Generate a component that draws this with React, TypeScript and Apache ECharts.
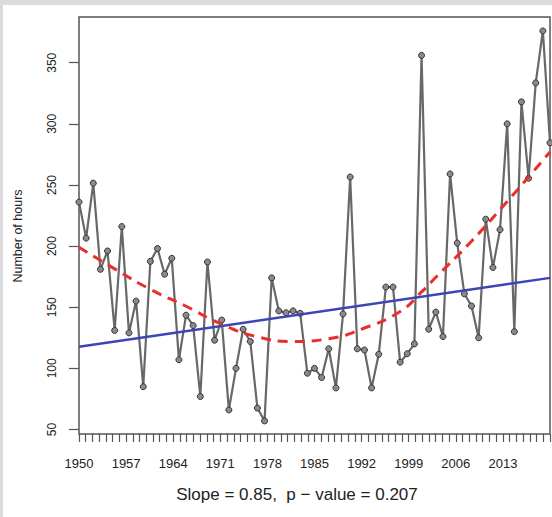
import React, { useEffect, useRef } from "react";
import * as echarts from "echarts";

// Yearly number of hours (one point per plotted step, left to right)
const hours = [
  236, 206.5, 251.5, 181, 196, 131, 216, 129, 155, 85,
  187.5, 198, 177, 190, 107, 143.5, 135, 77, 187, 123,
  139.5, 66, 100, 132, 122, 67.5, 57, 174, 147, 145.5,
  147, 145, 96, 100, 92.5, 116, 84, 144.5, 256.5, 116,
  115, 84, 111.5, 166.5, 166.5, 105, 112, 120, 356, 132,
  146, 126, 259, 202.5, 161, 151, 125, 222, 182.5, 213.5,
  300, 130, 318, 255.5, 333.5, 376, 284.5,
];

// Linear trend (blue), end points
const trendIndex = [0, 66];
const trendValue = [117.6, 174.0];

// Smoothed curve (red dashed)
const smoothIndex = [0, 5, 10, 15, 20, 25, 30, 35, 40, 45, 48, 50, 55, 60, 66];
const smoothValue = [199, 181.4, 164.6, 150.8, 136, 125.8, 122, 124.2, 133, 146.5, 162.5, 174.5, 204, 236.5, 277];

// Axis ticks / labels
const yTicks = [50, 100, 150, 200, 250, 300, 350];
const yearLabels = [1950, 1957, 1964, 1971, 1978, 1985, 1992, 1999, 2006, 2013];
const yearFirst = 1950;
const yearLast = 2020;
const yearTicks = Array.from({ length: yearLast - yearFirst + 1 }, (_, i) => yearFirst + i);

const FONT = "'Liberation Sans', Arial, Helvetica, sans-serif";

export default function App() {
  const ref = useRef<HTMLDivElement>(null);

  useEffect(() => {
    if (!ref.current) return;
    const chart = echarts.init(ref.current, undefined, { renderer: "svg" });
    chart.setOption({
      animation: false,
      backgroundColor: "#ffffff",
      textStyle: { fontFamily: FONT },
      grid: {
        left: 76,
        top: 12,
        right: 2,
        bottom: 83,
        show: true,
        borderColor: "#555",
        borderWidth: 1.5,
        backgroundColor: "transparent",
      },
      xAxis: [
        { type: "value", min: 0, max: hours.length - 1, show: false },
        {
          type: "value",
          min: yearFirst,
          max: yearLast,
          position: "bottom",
          axisLine: { show: false },
          splitLine: { show: false },
          axisTick: {
            show: true,
            length: 8,
            customValues: yearTicks,
            lineStyle: { color: "#555", width: 1.2 },
          },
          axisLabel: {
            customValues: yearLabels,
            formatter: (v: number) => String(v),
            margin: 23,
            fontSize: 13,
            color: "#222",
            fontFamily: FONT,
          },
        },
      ],
      yAxis: {
        type: "value",
        min: 46.3,
        max: 387.4,
        axisLine: { show: false },
        splitLine: { show: false },
        axisTick: {
          show: true,
          length: 10,
          customValues: yTicks,
          lineStyle: { color: "#555", width: 1.2 },
        },
        axisLabel: {
          customValues: yTicks,
          formatter: (v: number) => String(v),
          rotate: 90,
          margin: 21,
          fontSize: 12,
          color: "#222",
          fontFamily: FONT,
        },
      },
      series: [
        {
          type: "line",
          xAxisIndex: 0,
          data: hours.map((v, i) => [i, v]),
          lineStyle: { color: "#686868", width: 2.2 },
          symbol: "circle",
          symbolSize: 6,
          itemStyle: { color: "#8a8a8a", borderColor: "#333", borderWidth: 1 },
          z: 2,
        },
        {
          type: "line",
          xAxisIndex: 0,
          data: trendIndex.map((x, i) => [x, trendValue[i]]),
          symbol: "none",
          lineStyle: { color: "#3a46b4", width: 2.5 },
          z: 3,
        },
        {
          type: "line",
          xAxisIndex: 0,
          smooth: true,
          data: smoothIndex.map((x, i) => [x, smoothValue[i]]),
          symbol: "none",
          lineStyle: { color: "#e8302a", width: 3, type: [10, 7] },
          z: 4,
        },
      ],
      graphic: [
        {
          type: "text",
          x: 15,
          y: 231,
          rotation: Math.PI / 2,
          style: {
            text: "Number of hours",
            fontSize: 12.5,
            fontFamily: FONT,
            fill: "#222",
            textAlign: "center",
            textVerticalAlign: "middle",
          },
        },
        {
          type: "text",
          x: 294,
          y: 489,
          style: {
            text: "Slope = 0.85,  p \u2212 value = 0.207",
            fontSize: 17,
            fontFamily: FONT,
            fill: "#222",
            textAlign: "center",
            textVerticalAlign: "middle",
          },
        },
      ],
    });
    return () => chart.dispose();
  }, []);

  return (
    <div
      style={{
        position: "fixed",
        left: 0,
        top: 0,
        width: 552,
        height: 517,
        background: "#d9dbde",
        overflow: "hidden",
      }}
    >
      <div
        ref={ref}
        style={{ position: "absolute", left: 3, top: 5, width: 549, height: 512, background: "#fff" }}
      />
    </div>
  );
}
